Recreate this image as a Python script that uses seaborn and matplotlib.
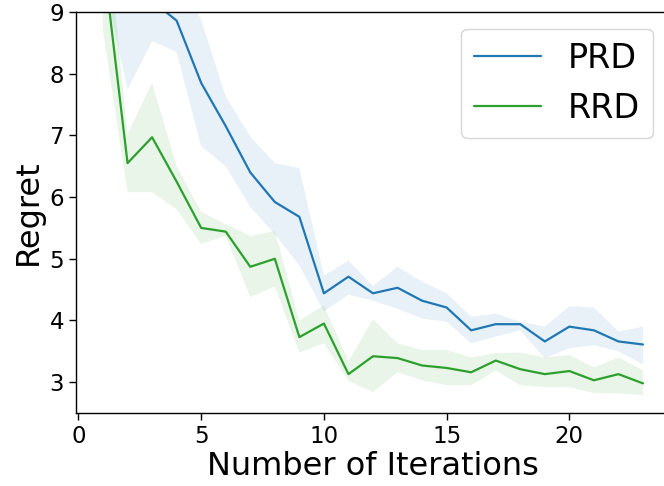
import matplotlib
matplotlib.use("Agg")
import matplotlib.pyplot as plt
import seaborn as sns
import pandas as pd

# Iteration index
iterations = list(range(1, 24))

# PRD: mean regret and its confidence band
prd_mean = [11.0, 10.2, 9.18, 8.86, 7.85, 7.15, 6.40, 5.92, 5.68, 4.44, 4.71, 4.44,
            4.53, 4.32, 4.21, 3.84, 3.94, 3.94, 3.66, 3.90, 3.84, 3.66, 3.61]
prd_low = [9.55, 7.74, 8.53, 8.35, 6.82, 6.50, 5.84, 5.40, 4.89, 4.15, 4.42, 4.32,
           4.19, 4.03, 3.98, 3.63, 3.74, 3.84, 3.39, 3.55, 3.60, 3.50, 3.29]
prd_high = [13.0, 12.0, 10.2, 9.6, 8.87, 7.63, 6.98, 6.55, 6.47, 4.73, 4.97, 4.56,
            4.87, 4.63, 4.44, 4.06, 4.11, 3.98, 3.90, 4.23, 4.21, 3.82, 3.90]

# RRD: mean regret and its confidence band
rrd_mean = [9.9, 6.55, 6.97, 6.25, 5.50, 5.44, 4.87, 5.00, 3.73, 3.95, 3.13, 3.42,
            3.39, 3.27, 3.23, 3.16, 3.35, 3.21, 3.13, 3.18, 3.03, 3.13, 2.98]
rrd_low = [8.7, 6.08, 6.08, 5.80, 5.24, 5.37, 4.38, 4.55, 3.48, 3.63, 3.02, 2.84,
           3.16, 3.03, 2.95, 2.95, 3.19, 2.95, 2.92, 2.92, 2.82, 2.82, 2.79]
rrd_high = [11.0, 7.02, 7.85, 6.50, 5.76, 5.56, 5.37, 5.45, 4.00, 4.24, 3.34, 4.02,
            3.63, 3.52, 3.52, 3.40, 3.47, 3.48, 3.40, 3.44, 3.24, 3.40, 3.19]

df = pd.concat([
    pd.DataFrame({"iter": iterations, "regret": prd_mean, "lo": prd_low,
                  "hi": prd_high, "method": "PRD"}),
    pd.DataFrame({"iter": iterations, "regret": rrd_mean, "lo": rrd_low,
                  "hi": rrd_high, "method": "RRD"}),
])

sns.set_style("ticks")
plt.rcParams["font.family"] = ["DejaVu Sans"]
plt.rcParams.update({
    "text.color": "black",
    "axes.labelcolor": "black",
    "xtick.color": "black",
    "ytick.color": "black",
    "axes.edgecolor": "black",
})

palette = {"PRD": "#1f77b4", "RRD": "#2ca02c"}

fig = plt.figure(figsize=(6.64, 4.86), dpi=100)
ax = fig.add_axes([76 / 664, 73 / 486, (670 - 76) / 664, (413 - 12) / 486])

sns.lineplot(data=df, x="iter", y="regret", hue="method", palette=palette,
             linewidth=1.6, errorbar=None, ax=ax)
for name, grp in df.groupby("method"):
    ax.fill_between(grp["iter"], grp["lo"], grp["hi"], color=palette[name],
                    alpha=0.1, linewidth=0)

ax.set_xlim(-0.1, 24.1)
ax.set_ylim(2.5, 9)
ax.set_yticks([3, 4, 5, 6, 7, 8, 9])
ax.set_xticks([0, 5, 10, 15, 20])
ax.tick_params(labelsize=16.5, length=5, width=1)
for s in ax.spines.values():
    s.set_linewidth(1)
ax.set_xlabel("Number of Iterations", fontsize=23, labelpad=2)
ax.set_ylabel("Regret", fontsize=23, labelpad=4)

leg = ax.legend(fontsize=24, loc="upper right", title=None)

fig.savefig("out.png", dpi=100)
